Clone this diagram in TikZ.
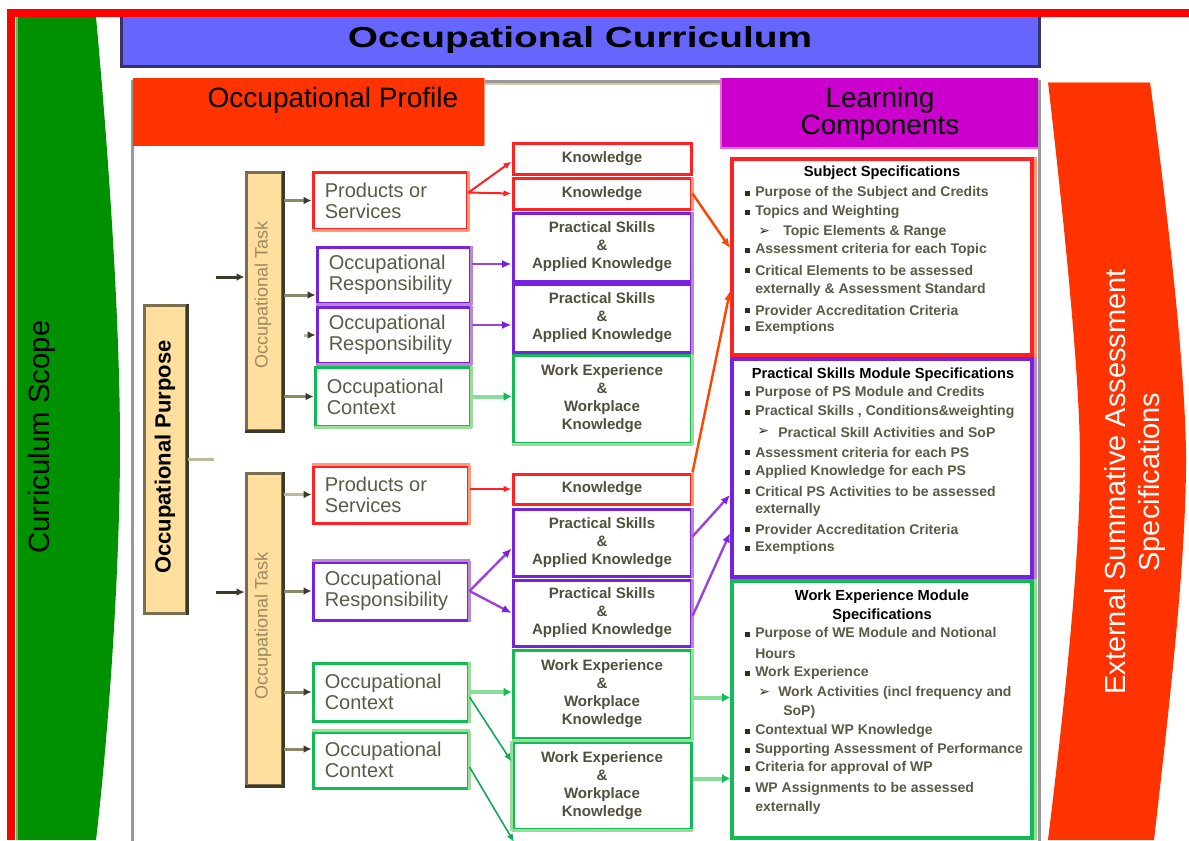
\documentclass[tikz,border=0pt]{standalone}
\usepackage{fontspec}
\setmainfont{Liberation Sans}
\newfontfamily\djv{DejaVu Sans}
\usepackage{graphicx}
\usetikzlibrary{arrows.meta,fit,calc}
\definecolor{frred}{HTML}{FF0000}
\definecolor{scopeg}{HTML}{009100}
\definecolor{scopel}{HTML}{66BB66}
\definecolor{cblue}{HTML}{6666FF}
\definecolor{cnavy}{HTML}{333366}
\definecolor{corange}{HTML}{FF3300}
\definecolor{cmag}{HTML}{CC00CC}
\definecolor{cpink}{HTML}{E070D0}
\definecolor{ctan}{HTML}{FFDF9E}
\definecolor{ctanb}{HTML}{7A6E4E}
\definecolor{ctand}{HTML}{3E3A2A}
\definecolor{ctaskt}{HTML}{9A8A60}
\definecolor{bred}{HTML}{FF2222}
\definecolor{bredl}{HTML}{FF9977}
\definecolor{bpur}{HTML}{7722DD}
\definecolor{bpurl}{HTML}{BB88CC}
\definecolor{bgrn}{HTML}{11BB55}
\definecolor{bgrnl}{HTML}{99DD99}
\definecolor{txt}{HTML}{5A5A48}
\definecolor{ktc}{HTML}{50503E}
\definecolor{bul}{HTML}{2E2E24}
\definecolor{olive}{HTML}{8A8A6A}
\definecolor{olivel}{HTML}{BBBB99}
\definecolor{panel}{HTML}{999999}
\definecolor{beige}{HTML}{CCCCAA}
\definecolor{oarrc}{HTML}{FF4400}
\definecolor{parrc}{HTML}{9944DD}
\definecolor{garrc}{HTML}{88DD99}
\definecolor{gdarrc}{HTML}{11AA55}
\newcommand{\itm}[3]{\fill[bul] (744.5,#2-2.5) rectangle (749.5,#2+2.5); \node[spec,anchor=west] (#1) at (755,#2) {#3};}
\newcommand{\cont}[3]{\node[spec,anchor=west] (#1) at (755,#2) {#3};}
\newcommand{\subi}[6]{\node[spec,anchor=west,text=bul] (#1) at (#4,#3) {\djv\char"27A2}; \node[spec,anchor=west] (#2) at (#5,#3) {#6};}
\newcommand{\otext}[2]{\node[otxt, anchor=west] (#1t) at ($(#1.west)+(13,0)$) {#2};}
\newcommand{\ktext}[2]{\node[ktxt] (#1t) at (#1.center) {#2};}
\begin{document}
\begin{tikzpicture}[x=0.75pt,y=-0.75pt,
  box/.style={draw, line width=2.25pt, fill=white, inner sep=0pt},
  rbox/.style={box, draw=bred},
  pbox/.style={box, draw=bpur},
  gbox/.style={box, draw=bgrn},
  tbox/.style={draw=ctanb, fill=ctan, line width=2.25pt, inner sep=0pt},
  sbox/.style={draw, line width=3pt, fill=white, inner sep=0pt},
  otxt/.style={font=\fontsize{15}{15.75}\selectfont, text=txt, align=left, inner sep=0pt},
  ktxt/.style={font=\fontsize{11.3}{13.5}\selectfont\bfseries, text=ktc, align=center, inner sep=0pt},
  spec/.style={font=\fontsize{10.5}{12}\selectfont\bfseries, text=txt, inner sep=0pt},
  sttl/.style={font=\fontsize{11}{14.25}\selectfont\bfseries, text=black, inner sep=0pt, align=center},
  head/.style={font=\fontsize{21}{21}\selectfont, text=black, inner sep=0pt, align=center},
  tasktxt/.style={font=\fontsize{13.5}{14}\selectfont, text=ctaskt, rotate=90, inner sep=0pt},
  tarr/.style={draw=olive, line width=2.25pt, -{Latex[length=6pt,width=6pt,color=ctand]}},
  tarrl/.style={draw=olivel, line width=2.25pt, -{Latex[length=6pt,width=6pt,color=ctand]}},
  tarrd/.style={draw=ctand, line width=2.25pt, -{Latex[length=6pt,width=6pt,color=ctand]}},
  rarr/.style={draw=bred, line width=1.5pt, -{Latex[length=6pt,width=5pt]}},
  oarr/.style={draw=oarrc, line width=1.8pt, -{Latex[length=7pt,width=6pt]}},
  parr/.style={draw=parrc, line width=1.8pt, -{Latex[length=7pt,width=6pt,color=bpur]}},
  garr/.style={draw=garrc, line width=3pt, -{Latex[length=6pt,width=7pt,color=bgrn]}},
  gdarr/.style={draw=gdarrc, line width=1.2pt, -{Latex[length=6pt,width=5pt]}}
]
\useasboundingbox (0,0) rectangle (1189,840);
\fill[white] (0,0) rectangle (1189,840);
% red frame
\fill[frred] (7,9) rectangle (1189,17);
\fill[frred] (7,9) rectangle (15,840);
% curriculum scope shape
\fill[scopeg] (16,17) -- (96,17) .. controls (110,170) and (120,330) .. (120,445) .. controls (120,560) and (110,720) .. (96,840) -- (16,840) -- cycle;
\draw[scopel, line width=1.2pt] (17,17) -- (17,840);
\node[font=\fontsize{22}{22}\selectfont, rotate=90, inner sep=0pt] (scope) at (42,437) {Curriculum Scope};
% external assessment shape
\fill[corange] (1048,82) -- (1150,82) .. controls (1170,230) and (1186,380) .. (1186,460) .. controls (1186,560) and (1170,700) .. (1154,840) -- (1048,840) .. controls (1065,700) and (1080,560) .. (1080,460) .. controls (1080,380) and (1065,230) .. (1048,82) -- cycle;
\draw[bredl, line width=1pt] (1048,82.5) -- (1150,82.5);
\node[font=\fontsize{21.75}{25.5}\selectfont, text=white, rotate=90, align=center, inner sep=0pt] (ext) at (1135,482) {External Summative Assessment\\Specifications};
% title bar
\node[fit={(122,17) (1039,66)}, fill=cblue, inner sep=0pt] (bar) {};
\draw[cnavy, line width=2.5pt] (bar.north west) -- (bar.south west) -- (bar.south east) -- (bar.north east);
\node[inner sep=0pt] (title) at (580,40) {\fontsize{21.75}{26}\selectfont\bfseries\scalebox{1.34}[1]{Occupational Curriculum}};
% panel
\draw[panel, line width=2.25pt] (132,81) rectangle (1039,850);
\draw[beige, line width=1.5pt] (485,84) -- (721,84);
% headers
\node[fit={(133,78) (484,146)}, fill=corange, inner sep=0pt] (prof) {};
\draw[bredl, line width=1pt] (prof.north east) -- (prof.south east);
\node[head] (proft) at (333,100) {Occupational Profile};
\node[fit={(721,78) (1038,148)}, fill=cmag, inner sep=0pt] (learn) {};
\draw[cpink, line width=1.5pt] (learn.north west) -- (learn.south west) -- (learn.south east);
\node[head] (learnt1) at (880,100) {Learning};
\node[head] (learnt2) at (880,128) {Components};
% occupational purpose
\node[tbox, fit={(144,305) (186,613)}] (op) {};
\draw[ctand, line width=2.25pt] (op.north east) -- (op.south east);
\node[font=\fontsize{16.5}{17}\selectfont\bfseries, rotate=90, inner sep=0pt] (opt) at (165,457) {Occupational Purpose};
\coordinate (opj) at (214,459);
\draw[olivel, line width=2.25pt] (op.east) -- (opj);
% occupational tasks
\node[tbox, fit={(246,172) (282,430)}] (ot1) {};
\draw[ctand, line width=2.25pt] (ot1.north east) -- (ot1.south east) -- (ot1.south west);
\node[tasktxt] (ot1t) at (263,295) {Occupational Task};
\node[tbox, fit={(246,473) (282,785)}] (ot2) {};
\draw[ctand, line width=2.25pt] (ot2.north east) -- (ot2.south east) -- (ot2.south west);
\node[tasktxt] (ot2t) at (263,626) {Occupational Task};
\coordinate (in1) at (216,277);
\coordinate (in2) at (216,592);
% top section boxes
\node[rbox, fit={(313,172) (467,229)}] (ps1) {};
\node[pbox, fit={(317,247) (470,303)}] (or1) {};
\node[pbox, fit={(317,307) (470,363)}] (or2) {};
\node[gbox, fit={(315,367) (470,426)}] (oc1) {};
\node[rbox, fit={(513,143) (691,174)}] (k1) {};
\node[rbox, fit={(513,178) (691,209)}] (k2) {};
\node[pbox, fit={(513,213) (691,281)}] (pa1) {};
\node[pbox, fit={(513,284) (691,352)}] (pa2) {};
\node[gbox, fit={(513,355) (691,443)}] (we1) {};
% bottom section boxes
\node[rbox, fit={(313,466) (468,523)}] (ps2) {};
\node[pbox, fit={(313,562) (468,620)}] (or3) {};
\node[gbox, fit={(313,663) (468,721)}] (oc2) {};
\node[gbox, fit={(313,732) (468,788)}] (oc3) {};
\node[rbox, fit={(513,474) (691,504)}] (k3) {};
\node[pbox, fit={(513,509) (691,576)}] (pa3) {};
\node[pbox, fit={(513,580) (691,646)}] (pa4) {};
\node[gbox, fit={(513,650) (691,738)}] (we3) {};
\node[gbox, fit={(513,742) (691,829)}] (we4) {};
% spec boxes
\node[sbox, draw=bred, fit={(732,159) (1032,355)}] (ss) {};
\node[sbox, draw=bpur, fit={(732,359) (1032,577)}] (psm) {};
\node[sbox, draw=bgrn, fit={(732,581) (1032,838)}] (wem) {};
% lighter edges
\foreach \n/\c in {ps1/bredl,k2/bredl,ps2/bredl,k3/bredl,or1/bpurl,or2/bpurl,or3/bpurl,pa1/bpurl,pa2/bpurl,pa3/bpurl,pa4/bpurl,oc1/bgrnl,oc2/bgrnl,oc3/bgrnl,we1/bgrnl,we3/bgrnl}
  \draw[\c, line width=2.25pt] (\n.north east) -- (\n.south east);
\foreach \n/\c in {ps1/bredl,or1/bpurl,or2/bpurl,oc1/bgrnl,we1/bgrnl,we4/bgrnl}
  \draw[\c, line width=2.25pt] (\n.south west) -- (\n.south east);
\foreach \n/\c in {ps2/bredl,or3/bpurl,oc3/bgrnl,we4/bgrnl}
  \draw[\c, line width=2.25pt] (\n.north west) -- (\n.north east);
\draw[bgrnl, line width=2.25pt] (we4.north west) -- (we4.south west);
\foreach \n/\c in {ss/bredl,psm/bpurl,wem/bgrnl}
  \draw[\c, line width=2pt] ([xshift=1pt]\n.north east) -- ([xshift=1pt]\n.south east);
% box texts
\otext{ps1}{Products or\\Services}
\otext{or1}{Occupational\\Responsibility}
\otext{or2}{Occupational\\Responsibility}
\otext{oc1}{Occupational\\Context}
\otext{ps2}{Products or\\Services}
\otext{or3}{Occupational\\Responsibility}
\otext{oc2}{Occupational\\Context}
\otext{oc3}{Occupational\\Context}
\ktext{k1}{Knowledge}
\ktext{k2}{Knowledge}
\ktext{k3}{Knowledge}
\ktext{pa1}{Practical Skills\\\&\\Applied Knowledge}
\ktext{pa2}{Practical Skills\\\&\\Applied Knowledge}
\ktext{pa3}{Practical Skills\\\&\\Applied Knowledge}
\ktext{pa4}{Practical Skills\\\&\\Applied Knowledge}
\ktext{we1}{Work Experience\\\&\\Workplace\\Knowledge}
\ktext{we3}{Work Experience\\\&\\Workplace\\Knowledge}
\ktext{we4}{Work Experience\\\&\\Workplace\\Knowledge}
% task connectors
\draw[tarrd] (in1) -- (in1 -| ot1.west);
\draw[tarrd] (in2) -- (in2 -| ot2.west);
\draw[tarr] (ot1.east |- ps1.west) -- (ps1.west);
\draw[tarr] (ot1.east |- {$(or1.west)+(0,20)$}) -- ($(or1.west)+(0,20)$);
\draw[tarrl] ($(or2.west)+(-12,0)$) -- (or2.west);
\draw[tarr] (ot1.east |- oc1.west) -- (oc1.west);
\draw[tarrl] (ot2.east |- ps2.west) -- (ps2.west);
\draw[tarr] (ot2.east |- or3.west) -- (or3.west);
\draw[tarr] (ot2.east |- oc2.west) -- (oc2.west);
\draw[tarr] (ot2.east |- {$(oc3.west)+(0,-11)$}) -- ($(oc3.west)+(0,-11)$);
% coloured connectors
\draw[rarr] ($(ps1.east)+(0,-8)$) -- ($(k1.west)+(0,3)$);
\draw[rarr] ($(ps1.east)+(0,-8)$) -- (k2.west);
\draw[parr] ($(or1.east)+(0,-11)$) -- ($(pa1.west)+(0,17)$);
\draw[parr] ($(or2.east)+(0,-10)$) -- ($(pa2.west)+(0,7)$);
\draw[garr] (oc1.east) -- (oc1.east -| we1.west);
\draw[rarr] (ps2.east |- k3.west) -- (k3.west);
\draw[parr] (or3.east) -- ($(pa3.west)+(0,6)$);
\draw[parr] (or3.east) -- (pa4.west);
\draw[garr] (oc2.east) -- (oc2.east -| we3.west);
\draw[gdarr] ($(oc2.east)+(0,5)$) -- ($(we4.west)+(0,-24)$);
\coordinate (offb) at (514,842);
\draw[gdarr] ($(oc3.east)+(0,7)$) -- (offb);
\draw[oarr] (k2.east) -- ($(ss.west)+(0,-9)$);
\draw[oarr] (k3.north east) -- ($(ss.west)+(0,34)$);
\draw[parr] ($(pa3.east)+(0,-6)$) -- ($(psm.west)+(0,27)$);
\draw[parr] ($(pa4.east)+(0,3)$) -- ($(psm.west)+(0,65)$);
\draw[garr] (we3.east |- {$(wem.west)+(0,-12)$}) -- ($(wem.west)+(0,-12)$);
\draw[garr] (we4.east |- {$(wem.west)+(0,69)$}) -- ($(wem.west)+(0,69)$);
% subject specifications
\node[sttl] (sst) at (882,173) {Subject Specifications};
\itm{s1}{193}{Purpose of the Subject and Credits}
\itm{s2}{212}{Topics and Weighting}
\subi{s3a}{s3}{232}{758}{783}{Topic Elements \& Range}
\itm{s4}{250}{Assessment criteria for each Topic}
\itm{s5}{270}{Critical Elements to be assessed}
\cont{s6}{290}{externally \& Assessment Standard}
\itm{s7}{310}{Provider Accreditation Criteria}
\itm{s8}{328}{Exemptions}
% practical skills module specifications
\node[sttl] (pst) at (883,375) {Practical Skills Module Specifications};
\itm{p1}{393}{Purpose of PS Module and Credits}
\itm{p2}{412}{Practical Skills , Conditions\&weighting}
\subi{p3a}{p3}{432}{757}{778}{Practical Skill Activities and SoP}
\itm{p4}{452}{Assessment criteria for each PS}
\itm{p5}{472}{Applied Knowledge for each PS}
\itm{p6}{491}{Critical PS Activities to be assessed}
\cont{p7}{510}{externally}
\itm{p8}{529}{Provider Accreditation Criteria}
\itm{p9}{548}{Exemptions}
% work experience module specifications
\node[sttl] (wet) at (882,606) {Work Experience Module\\Specifications};
\itm{w1}{634}{Purpose of WE Module and Notional}
\cont{w2}{654}{Hours}
\itm{w3}{673}{Work Experience}
\subi{w4a}{w4}{693}{758}{778}{Work Activities (incl frequency and}
\node[spec,anchor=west] (w5) at (783,712) {SoP)};
\itm{w6}{731}{Contextual WP Knowledge}
\itm{w7}{750}{Supporting Assessment of Performance}
\itm{w8}{768}{Criteria for approval of WP}
\itm{w9}{789}{WP Assignments to be assessed}
\cont{w10}{808}{externally}
\end{tikzpicture}
\end{document}
